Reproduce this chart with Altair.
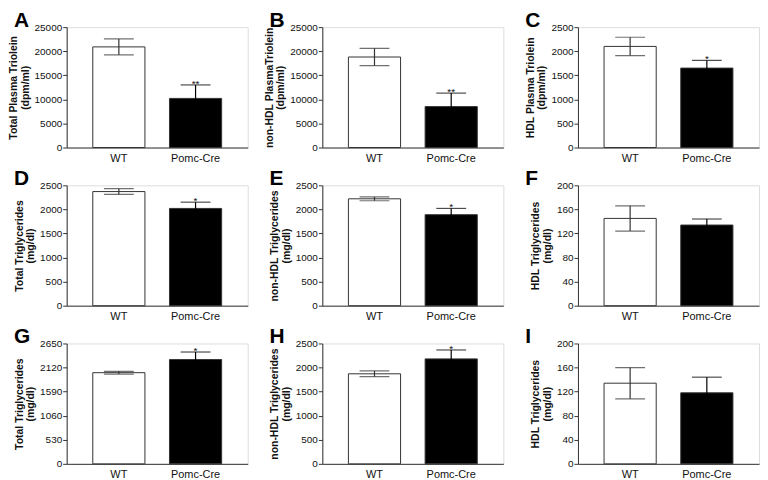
import altair as alt
import pandas as pd

letters = ["A", "B", "C", "D", "E", "F", "G", "H", "I"]
title_line1 = ["Total Plasma Triolein", "non-HDL PlasmaTriolein", "HDL Plasma Triolein",
               "Total Triglycerides", "non-HDL Triglycerides", "HDL Triglycerides",
               "Total Triglycerides", "non-HDL Triglycerides", "HDL Triglycerides"]
title_line2 = ["(dpm/ml)", "(dpm/ml)", "(dpm/ml)",
               "(mg/dl)", "(mg/dl)", "(mg/dl)",
               "(mg/dl)", "(mg/dl)", "(mg/dl)"]
y_ticks = [
    [0, 5000, 10000, 15000, 20000, 25000],
    [0, 5000, 10000, 15000, 20000, 25000],
    [0, 500, 1000, 1500, 2000, 2500],
    [0, 500, 1000, 1500, 2000, 2500],
    [0, 500, 1000, 1500, 2000, 2500],
    [0, 40, 80, 120, 160, 200],
    [0, 530, 1060, 1590, 2120, 2650],
    [0, 500, 1000, 1500, 2000, 2500],
    [0, 40, 80, 120, 160, 200],
]
groups = ["WT", "Pomc-Cre"]
wt_mean = [20900, 18800, 2100, 2370, 2220, 145, 2007, 1870, 134]
wt_sem = [1650, 1800, 190, 60, 40, 21, 30, 60, 26]
ko_mean = [10200, 8500, 1650, 2020, 1890, 134, 2296, 2180, 118]
ko_sem = [2800, 2800, 160, 130, 130, 10, 166, 185, 26]
ko_star = ["**", "**", "*", "*", "*", "", "*", "*", ""]

W, H = 182, 121
LINE = "#333333"


def panel(i):
    df = pd.DataFrame({
        "group": groups,
        "mean": [wt_mean[i], ko_mean[i]],
        "lo": [wt_mean[i] - wt_sem[i], ko_mean[i] - ko_sem[i]],
        "hi": [wt_mean[i] + wt_sem[i], ko_mean[i] + ko_sem[i]],
        "star": ["", ko_star[i]],
    })
    ticks = y_ticks[i]
    yscale = alt.Scale(domain=[ticks[0], ticks[-1]], nice=False, zero=True)
    yaxis = alt.Axis(values=ticks, grid=False, tickSize=4, tickColor=LINE,
                     domainColor=LINE, labelFontSize=10, labelColor="#111",
                     labelFont="Liberation Sans", labelPadding=1,
                     title=[title_line1[i], title_line2[i]],
                     titleFont="Liberation Sans", titleFontSize=10.5,
                     titleFontWeight="bold", titleColor="#111",
                     titleLineHeight=11.5, titlePadding=4, format="d")
    xenc = alt.X("group:N", sort=groups, title=None,
                 scale=alt.Scale(paddingInner=0.32, paddingOuter=0.34),
                 axis=alt.Axis(ticks=False, labelAngle=0, domainColor=LINE,
                               labelFontSize=11, labelFont="Liberation Sans",
                               labelColor="#111", labelPadding=5))
    lcolor = alt.Color("group:N", scale=alt.Scale(domain=groups, range=[LINE, "#000000"]),
                       legend=None)
    base = alt.Chart(df)
    bars = base.mark_bar(stroke=LINE, strokeWidth=1).encode(
        x=xenc,
        y=alt.Y("mean:Q", scale=yscale, axis=yaxis),
        fill=alt.Fill("group:N", scale=alt.Scale(domain=groups, range=["#ffffff", "#000000"]),
                      legend=None),
    )
    err = base.mark_rule(strokeWidth=1.2).encode(
        x=xenc, y=alt.Y("lo:Q", scale=yscale, axis=yaxis), y2="hi:Q", color=lcolor)
    cap_hi = base.mark_tick(size=30, thickness=1.2).encode(
        x=xenc, y=alt.Y("hi:Q", scale=yscale, axis=yaxis), color=lcolor)
    cap_lo = base.mark_tick(size=30, thickness=1.2).encode(
        x=xenc, y=alt.Y("lo:Q", scale=yscale, axis=yaxis), color=lcolor)
    star = base.mark_text(fontSize=10, font="Liberation Sans", color="#111",
                          baseline="alphabetic", dy=2).encode(
        x=xenc, y=alt.Y("hi:Q", scale=yscale, axis=yaxis), text="star:N")
    letter = alt.Chart(pd.DataFrame({"letter": [letters[i]]})).mark_text(
        fontSize=21, fontWeight="bold", font="Liberation Sans", color="#000",
        align="left", baseline="alphabetic").encode(
        x=alt.value(-53), y=alt.value(0), text="letter:N")
    return alt.layer(bars, err, cap_lo, cap_hi, star, letter).properties(width=W, height=H)


chart = alt.concat(*[panel(i) for i in range(9)], columns=3,
                   spacing={"row": 38, "column": 75}, bounds="flush").properties(
    padding={"left": 0, "top": 0, "right": 0, "bottom": 0}
).configure_view(stroke="#777777", strokeWidth=1).configure(
    background="white")

chart.save("out.html", embed_options={"renderer": "svg", "actions": False})
